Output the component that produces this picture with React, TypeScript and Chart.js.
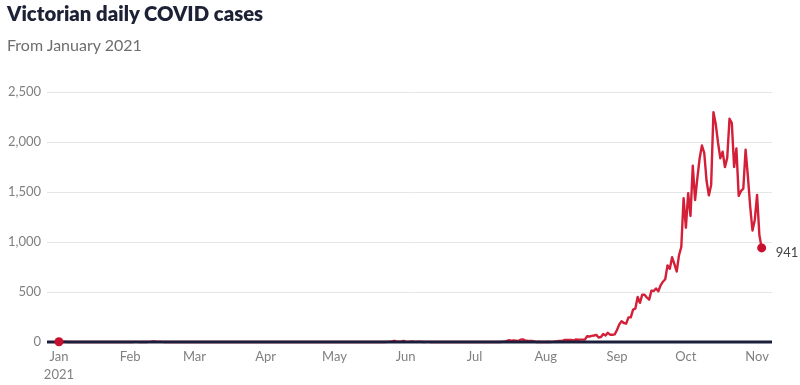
import React, { useEffect, useRef } from "react";
import { Chart, registerables } from "chart.js";

Chart.register(...registerables);

const TITLE = "Victorian daily COVID cases";
const SUBTITLE = "From January 2021";

const monthLabels = ["Jan", "Feb", "Mar", "Apr", "May", "Jun", "Jul", "Aug", "Sep", "Oct", "Nov"];
const monthStartDays = [0, 31, 59, 90, 120, 151, 181, 212, 243, 273, 304];
const yearLabel = "2021";
const yTickValues = [0, 500, 1000, 1500, 2000, 2500];

// Daily new cases, one array per month (Jan 1 2021 .. Nov 3 2021)
const jan = [3, 3, 3, 3, 0, 1, 0, 0, 0, 0, 0, 0, 0, 0, 0, 0, 0, 0, 0, 0, 0, 0, 0, 0, 0, 0, 0, 0, 0, 0, 0];
const feb = [0, 0, 1, 1, 0, 0, 0, 0, 1, 2, 5, 5, 1, 2, 1, 0, 1, 0, 0, 0, 0, 0, 0, 0, 0, 0, 0, 0];
const mar = [0, 0, 0, 0, 0, 0, 0, 0, 0, 0, 0, 0, 0, 0, 0, 0, 0, 0, 0, 0, 0, 0, 0, 0, 0, 0, 0, 0, 0, 0, 0];
const apr = [0, 0, 0, 0, 0, 0, 0, 0, 0, 0, 0, 0, 0, 0, 0, 0, 0, 0, 0, 0, 0, 0, 0, 0, 0, 0, 0, 0, 0, 0];
const may = [0, 0, 0, 0, 0, 0, 0, 0, 0, 0, 1, 0, 0, 0, 0, 0, 0, 0, 0, 0, 0, 0, 0, 1, 4, 6, 12, 5, 2, 3, 11];
const jun = [4, 1, 4, 5, 1, 2, 3, 2, 0, 1, 1, 0, 0, 0, 0, 0, 0, 0, 0, 0, 0, 0, 0, 0, 0, 1, 0, 0, 0, 0];
const jul = [0, 0, 0, 0, 0, 0, 0, 0, 0, 0, 0, 0, 2, 4, 10, 19, 12, 16, 13, 10, 22, 26, 14, 12, 11, 10, 5, 0, 2, 0, 1];
const aug = [0, 2, 0, 1, 6, 8, 11, 10, 20, 20, 21, 21, 15, 25, 22, 24, 24, 24, 57, 55, 61, 65, 71, 45, 50, 80, 64, 92, 73, 73, 76];
const sep = [120, 176, 208, 190, 183, 246, 246, 324, 334, 450, 392, 473, 473, 445, 423, 514, 510, 535, 507, 567, 603, 628, 766, 733, 847, 779, 705, 867, 950, 1438];
const oct = [1143, 1488, 1260, 1763, 1420, 1638, 1838, 1965, 1890, 1612, 1466, 1571, 2297, 2179, 1993, 1838, 1903, 1749, 1841, 2232, 2189, 1750, 1935, 1461, 1510, 1534, 1923, 1656, 1355, 1115, 1221];
const nov = [1471, 1069, 941];

const dailyCases = [...jan, ...feb, ...mar, ...apr, ...may, ...jun, ...jul, ...aug, ...sep, ...oct, ...nov];

const FONT = "Lato, 'Noto Sans', sans-serif";

const overlayPlugin = {
  id: "zeroLineAndLabel",
  afterDatasetDraw(chart: any, args: any) {
    if (args.index !== 0) return;
    const { ctx, chartArea, scales } = chart;
    const y = scales.y.getPixelForValue(0);
    ctx.save();
    ctx.strokeStyle = "#1c1f3b";
    ctx.lineWidth = 3;
    ctx.beginPath();
    ctx.moveTo(chartArea.left, y);
    ctx.lineTo(chartArea.right, y);
    ctx.stroke();
    ctx.restore();
  },
  afterDatasetsDraw(chart: any) {
    const { ctx, scales } = chart;
    const lastIdx = dailyCases.length - 1;
    const v = dailyCases[lastIdx];
    const x = scales.x.getPixelForValue(lastIdx);
    const y = scales.y.getPixelForValue(v);
    ctx.save();
    ctx.fillStyle = "#444";
    ctx.font = `13px ${FONT}`;
    ctx.textAlign = "left";
    ctx.textBaseline = "middle";
    ctx.fillText(v.toLocaleString("en-US"), x + 14, y + 5);
    ctx.restore();
  },
};

export default function App() {
  const canvasRef = useRef<HTMLCanvasElement | null>(null);

  useEffect(() => {
    document.body.style.margin = "0";
    const canvas = canvasRef.current;
    if (!canvas) return;
    const lastIdx = dailyCases.length - 1;
    const chart = new Chart(canvas, {
      type: "line",
      data: {
        datasets: [
          {
            data: dailyCases.map((v, i) => ({ x: i, y: v })),
            borderColor: "#d31f38",
            borderWidth: 2.4,
            pointRadius: 0,
            tension: 0,
            borderJoinStyle: "round",
            fill: false,
            clip: false as any,
            order: 2,
          },
          {
            data: [
              { x: 0, y: dailyCases[0] },
              { x: lastIdx, y: dailyCases[lastIdx] },
            ],
            showLine: false,
            pointRadius: 4.5,
            pointBackgroundColor: "#c8102e",
            pointBorderWidth: 0,
            clip: false as any,
            order: 1,
          },
        ],
      },
      options: {
        animation: false,
        responsive: false,
        maintainAspectRatio: false,
        layout: { padding: { top: 92, right: 28, left: 0, bottom: 0 } },
        plugins: {
          legend: { display: false },
          tooltip: { enabled: false },
        },
        scales: {
          x: {
            type: "linear",
            min: -5.2,
            max: 310.5,
            grid: { display: false, drawTicks: false },
            border: { display: false },
            afterBuildTicks: (scale: any) => {
              scale.ticks = monthStartDays.map((d) => ({ value: d }));
            },
            afterFit: (scale: any) => {
              scale.height = 43;
            },
            ticks: {
              autoSkip: false,
              maxRotation: 0,
              padding: 6,
              color: "#808080",
              font: { family: FONT, size: 13, lineHeight: 1.35 },
              callback: (value: any) => {
                const i = monthStartDays.indexOf(Number(value));
                if (i < 0) return "";
                return i === 0 ? [monthLabels[0], yearLabel] : monthLabels[i];
              },
            },
          },
          y: {
            min: 0,
            max: 2500,
            grid: { color: "#e6e6e6", lineWidth: 1, drawTicks: false },
            border: { display: false },
            afterBuildTicks: (scale: any) => {
              scale.ticks = yTickValues.map((v) => ({ value: v }));
            },
            afterFit: (scale: any) => {
              scale.width = 47;
            },
            ticks: {
              padding: 6,
              color: "#808080",
              font: { family: FONT, size: 13 },
              callback: (value: any) => Number(value).toLocaleString("en-US"),
            },
          },
        },
      },
      plugins: [overlayPlugin],
    });
    return () => chart.destroy();
  }, []);

  return (
    <div style={{ position: "relative", width: 800, height: 385, background: "#fff", overflow: "hidden" }}>
      <canvas ref={canvasRef} width={800} height={385} style={{ position: "absolute", left: 0, top: 0, width: 800, height: 385 }} />
      <div
        style={{
          position: "absolute",
          left: 7,
          top: 1,
          fontFamily: FONT,
          fontWeight: 800,
          fontSize: 20.3,
          color: "#1d2136",
          whiteSpace: "nowrap",
        }}
      >
        {TITLE}
      </div>
      <div
        style={{
          position: "absolute",
          left: 7,
          top: 35,
          fontFamily: FONT,
          fontSize: 16,
          color: "#6e6e6e",
          whiteSpace: "nowrap",
        }}
      >
        {SUBTITLE}
      </div>
    </div>
  );
}
